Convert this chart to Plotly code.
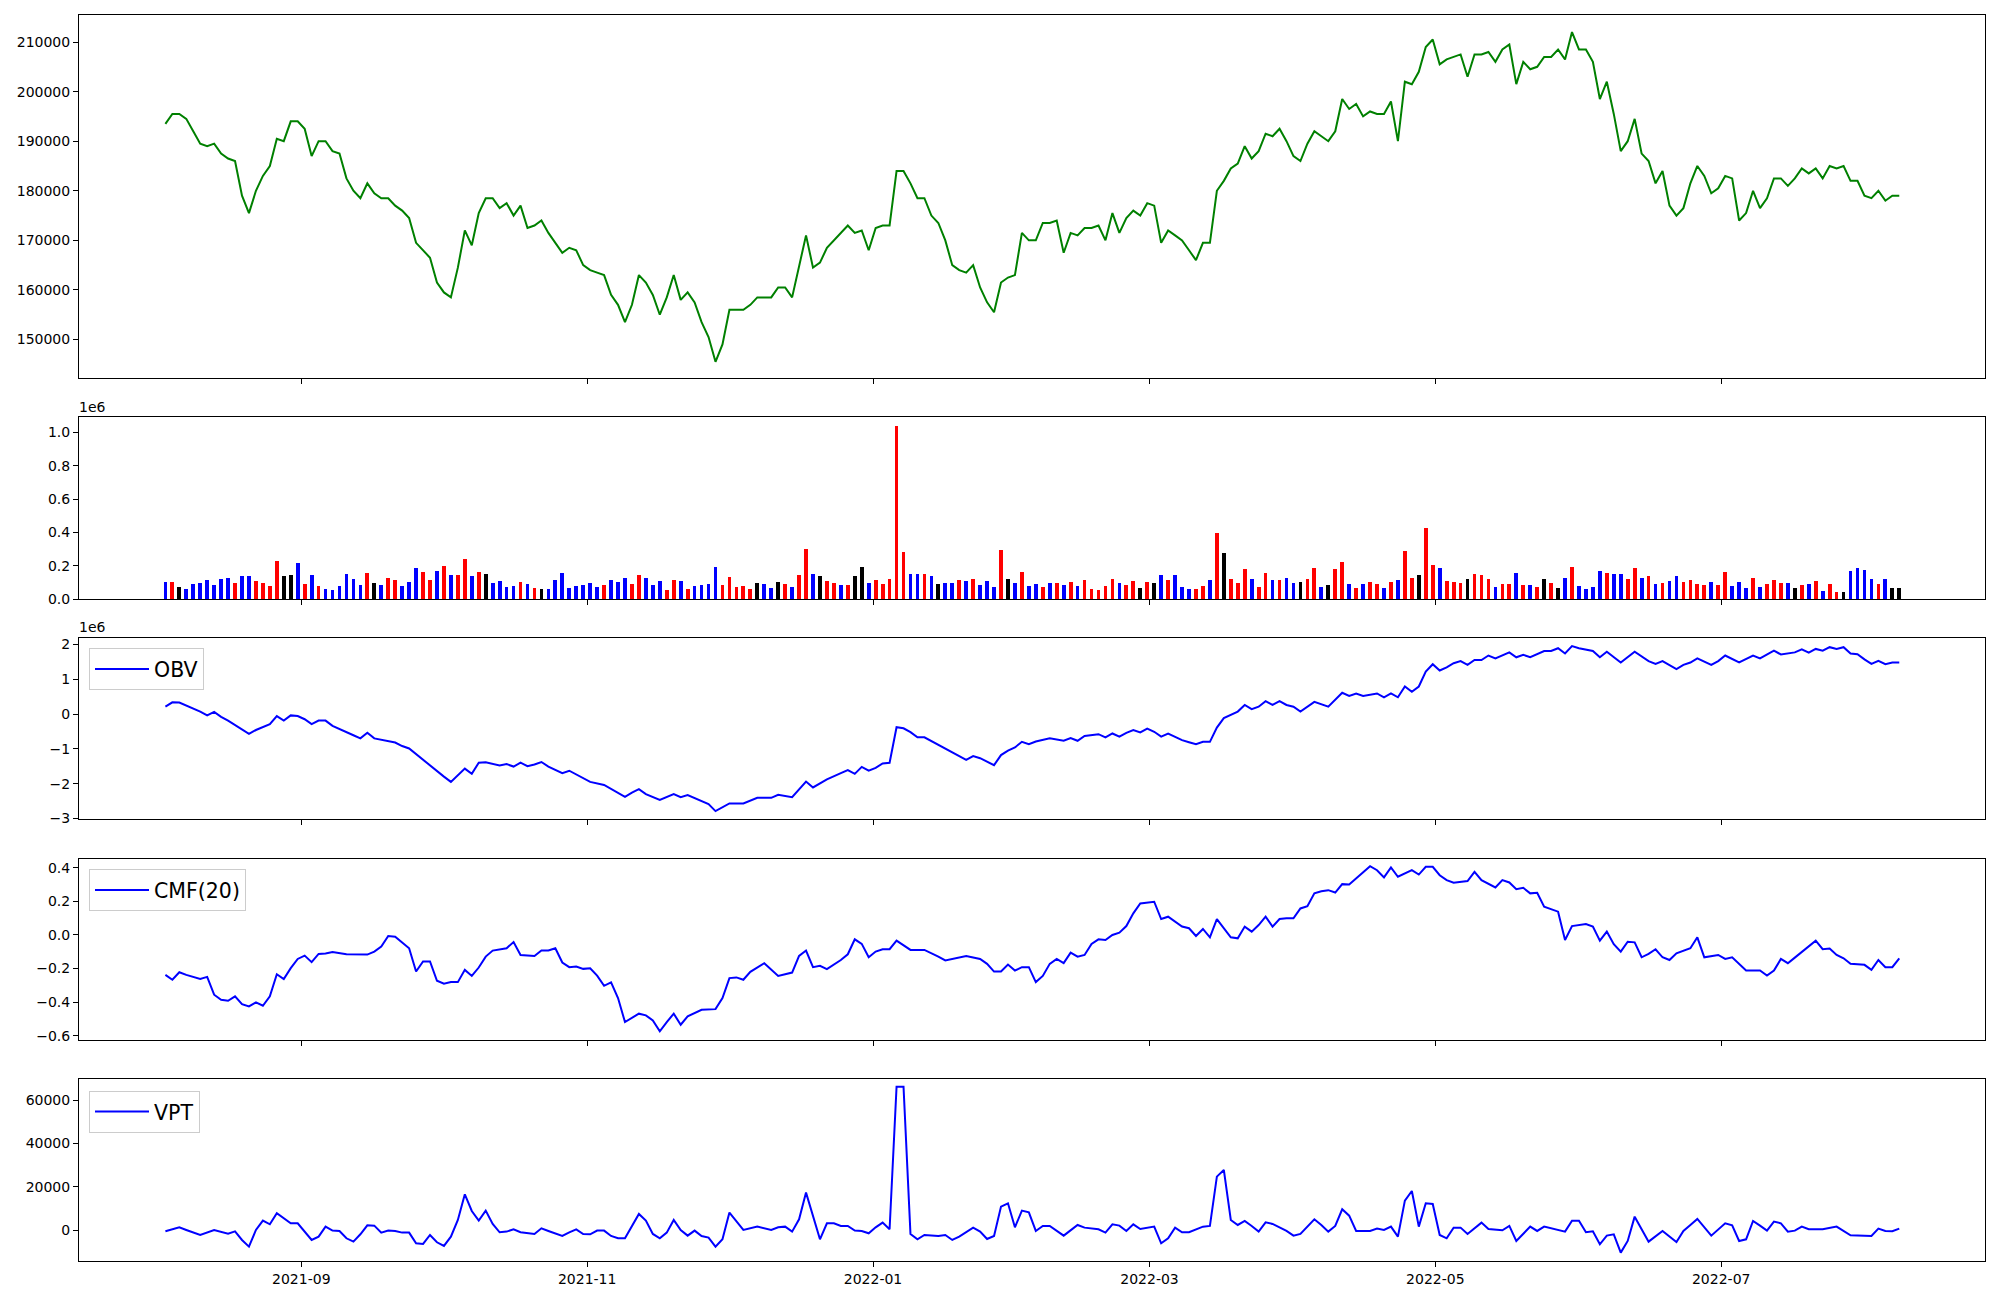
import pandas as pd
import plotly.graph_objects as go

# ---------------- data ----------------
HOLIDAYS = ["2021-08-16", "2021-09-20", "2021-09-21", "2021-09-22", "2021-10-04",
            "2021-10-11", "2021-12-31", "2022-01-31", "2022-02-01", "2022-02-02",
            "2022-03-01", "2022-03-09", "2022-05-05", "2022-06-01", "2022-06-06"]
trade_days = [d.strftime("%Y-%m-%d") for d in pd.bdate_range("2021-08-03", "2022-08-08")
              if d.strftime("%Y-%m-%d") not in HOLIDAYS]

close = [
    193500, 195500, 195500, 194500, 192000, 189500, 189000, 189500, 187500, 186500,
    186000, 179000, 175500, 180000, 183000, 185000, 190500, 190000, 194000, 194000,
    192500, 187000, 190000, 190000, 188000, 187500, 182500, 180000, 178500, 181500,
    179500, 178500, 178500, 177000, 176000, 174500, 169500, 168000, 166500,
    161500, 159500, 158500, 164500, 172000, 169000, 175500, 178500, 178500, 176500,
    177500, 175000, 177000, 172500, 173000, 174000, 171500, 169500, 167500,
    168500, 168000, 165000, 164000, 163500, 163000, 159000, 157000, 153500, 157000,
    163000, 161500, 159000, 155000, 158500, 163000, 158000, 159500, 157500, 153500,
    150500, 145500,
    149000, 156000, 156000, 156000, 157000, 158500, 158500, 158500, 160500, 160500,
    158500, 165000, 171000, 164500, 165500, 168500, 170000, 171500, 173000, 171500,
    172000, 168000,
    172500, 173000, 173000, 184000, 184000, 181500, 178500, 178500, 175000, 173500,
    170000, 165000, 164000, 163500, 165000, 160500, 157500, 155500, 161500, 162500,
    163000, 171500, 170000, 170000, 173500, 173500, 174000, 167500, 171500, 171000,
    172500, 172500, 173000, 170000, 175500, 171500, 174500, 176000,
    175000, 177500, 177000, 169500, 172000, 171000, 170000, 168000, 166000, 169500,
    169500, 180000, 182000, 184500, 185500, 189000, 186500, 188000, 191500, 191000,
    192500,
    190000, 187000, 186000, 189500, 192000, 191000, 190000, 192000, 198500, 196500,
    197500, 195000, 196000, 195500, 195500, 198000, 190000, 202000, 201500, 204000,
    209000,
    210500, 205500, 206500, 207000, 207500, 203000, 207500, 207500, 208000, 206000,
    208500, 209500, 201500, 206000, 204500, 205000, 207000, 207000, 208500, 206500,
    212000,
    208500, 208500, 206000, 198500, 202000, 195500, 188000, 190000, 194500, 187500,
    186000, 181500, 184000, 177000, 175000, 176500, 181500, 185000, 183000, 179500,
    180500, 183000, 182500, 174000, 175500, 180000, 176500, 178500, 182500, 182500,
    181000, 182500, 184500, 183500, 184500, 182500, 185000, 184500, 185000, 182000,
    182000,
    179000, 178500, 180000, 178000, 179000, 179000,
]

volume = [
    104000, 104000, 74000, 62000, 92000, 98000, 116000, 86000, 122000, 128000,
    98000, 140000, 140000, 110000, 98000, 80000, 230000, 140000, 146000, 218000,
    92000, 146000, 80000, 62000, 56000, 80000, 152000, 122000, 86000, 158000,
    98000, 86000, 128000, 116000, 80000, 104000, 188000, 164000, 116000, 170000,
    200000, 146000, 146000, 242000, 140000, 164000, 152000, 98000, 110000, 74000,
    80000, 104000, 92000, 68000, 62000, 62000, 116000, 158000, 68000, 80000,
    86000, 98000, 74000, 86000, 116000, 104000, 128000, 92000, 146000, 128000,
    86000, 110000, 56000, 116000, 110000, 62000, 80000, 86000, 92000, 194000,
    86000, 134000, 74000, 80000, 62000, 98000, 92000, 68000, 104000, 92000,
    74000, 146000, 301000, 152000, 140000, 110000, 98000, 86000, 86000, 140000,
    194000, 98000, 116000, 92000, 122000, 1038000, 283000, 152000, 152000, 152000,
    140000, 92000, 98000, 98000, 116000, 110000, 122000, 86000, 110000, 74000,
    295000, 122000, 98000, 164000, 80000, 92000, 74000, 98000, 98000, 86000,
    104000, 80000, 116000, 62000, 56000, 80000, 122000, 98000, 86000, 110000,
    68000, 104000, 98000, 146000, 116000, 146000, 74000, 62000, 62000, 80000,
    116000, 397000, 277000, 122000, 98000, 182000, 122000, 74000, 158000, 116000,
    116000, 128000, 98000, 104000, 122000, 188000, 74000, 86000, 182000,
    224000, 92000, 68000, 92000, 104000, 92000, 68000, 104000, 116000, 289000,
    128000, 146000, 427000, 206000, 188000, 110000, 104000, 98000, 122000, 152000,
    146000, 122000, 74000, 92000, 92000, 158000, 86000, 86000, 74000, 122000,
    98000, 68000, 128000, 194000, 80000, 62000, 74000, 170000, 158000, 152000,
    152000, 122000, 188000, 128000, 140000, 92000, 98000, 110000, 140000, 104000,
    116000, 92000, 86000, 104000, 86000, 164000, 80000, 104000, 68000, 128000,
    74000, 92000, 116000, 98000, 98000, 68000, 86000, 92000, 110000, 50000,
    92000, 44000, 44000, 170000, 188000, 176000, 122000, 92000, 122000, 68000,
    68000,
]

# u = close up, d = close down, f = unchanged
direction = (
    "d u f d d d d d d d  u d d u u u u f f d  u d u d d d d d d u  f d u u d d d u u d "
    "u d u u d u f d d d  d u d u f d d d d d  d d d u d d d u u d  d d u u d u d d d d "
    "u u u u u f d d f u  d u u d f u u d u f  f d u u u u u d d u  d f d d u d u d d d "
    "u f d u d d u d u d  u d u u u u u d u u  f u f d u d d d u u  d u f u u u d u u d "
    "u d d f u u d f u  u d u d u u d u d u  u f u u d u u u f u  u u d u u d u d u f "
    "u f d u d d d d u d  d u u d u d u d d u  u u u d u u d d d u  d u u u d f u d u d "
    "u u f d d d d u d f  f"
).split()

obv_points = [
    ("2021-08-03", 0.21), ("2021-08-04", 0.335), ("2021-08-05", 0.33), ("2021-08-06", 0.25),
    ("2021-08-09", 0.16), ("2021-08-10", 0.07), ("2021-08-11", -0.04), ("2021-08-12", 0.06),
    ("2021-08-13", -0.08), ("2021-08-17", -0.19), ("2021-08-20", -0.57), ("2021-08-23", -0.46),
    ("2021-08-25", -0.29), ("2021-08-26", -0.06), ("2021-08-27", -0.19), ("2021-08-30", -0.04),
    ("2021-08-31", -0.06), ("2021-09-01", -0.15), ("2021-09-02", -0.29), ("2021-09-03", -0.19),
    ("2021-09-06", -0.19), ("2021-09-07", -0.34), ("2021-09-10", -0.61), ("2021-09-13", -0.70),
    ("2021-09-14", -0.54), ("2021-09-15", -0.70), ("2021-09-23", -0.82), ("2021-09-24", -0.92),
    ("2021-09-27", -0.99), ("2021-09-29", -1.32), ("2021-10-01", -1.63), ("2021-10-05", -1.80),
    ("2021-10-06", -1.95), ("2021-10-08", -1.57), ("2021-10-12", -1.72), ("2021-10-13", -1.40),
    ("2021-10-14", -1.39), ("2021-10-18", -1.48), ("2021-10-19", -1.44), ("2021-10-20", -1.51),
    ("2021-10-21", -1.40), ("2021-10-22", -1.50), ("2021-10-25", -1.45), ("2021-10-26", -1.38),
    ("2021-10-27", -1.51), ("2021-10-29", -1.70), ("2021-11-01", -1.63), ("2021-11-04", -1.95),
    ("2021-11-08", -2.04), ("2021-11-11", -2.38), ("2021-11-12", -2.26), ("2021-11-15", -2.16),
    ("2021-11-16", -2.30), ("2021-11-18", -2.47), ("2021-11-22", -2.30), ("2021-11-23", -2.39),
    ("2021-11-24", -2.33), ("2021-11-26", -2.49), ("2021-11-29", -2.59), ("2021-11-30", -2.79),
    ("2021-12-02", -2.57), ("2021-12-06", -2.57), ("2021-12-08", -2.41), ("2021-12-10", -2.41),
    ("2021-12-13", -2.32), ("2021-12-15", -2.39), ("2021-12-17", -1.94), ("2021-12-20", -2.11),
    ("2021-12-22", -1.88), ("2021-12-24", -1.70), ("2021-12-27", -1.61), ("2021-12-28", -1.72),
    ("2021-12-29", -1.52), ("2021-12-30", -1.63), ("2022-01-03", -1.55), ("2022-01-04", -1.42),
    ("2022-01-05", -1.40), ("2022-01-06", -0.38), ("2022-01-07", -0.41), ("2022-01-10", -0.52),
    ("2022-01-11", -0.67), ("2022-01-12", -0.67), ("2022-01-14", -0.89), ("2022-01-17", -0.99),
    ("2022-01-20", -1.32), ("2022-01-21", -1.21), ("2022-01-24", -1.27), ("2022-01-26", -1.47),
    ("2022-01-27", -1.18), ("2022-01-28", -1.05), ("2022-02-03", -0.96), ("2022-02-04", -0.80),
    ("2022-02-07", -0.87), ("2022-02-08", -0.79), ("2022-02-10", -0.70), ("2022-02-14", -0.77),
    ("2022-02-15", -0.69), ("2022-02-16", -0.77), ("2022-02-17", -0.63), ("2022-02-21", -0.58),
    ("2022-02-22", -0.67), ("2022-02-23", -0.56), ("2022-02-24", -0.65), ("2022-02-25", -0.54),
    ("2022-02-28", -0.46), ("2022-03-02", -0.53), ("2022-03-03", -0.42), ("2022-03-04", -0.51),
    ("2022-03-07", -0.65), ("2022-03-08", -0.56), ("2022-03-11", -0.75), ("2022-03-14", -0.81),
    ("2022-03-15", -0.87), ("2022-03-16", -0.80), ("2022-03-17", -0.80), ("2022-03-18", -0.39),
    ("2022-03-21", -0.12), ("2022-03-23", 0.07), ("2022-03-24", 0.26), ("2022-03-25", 0.14),
    ("2022-03-28", 0.21), ("2022-03-29", 0.37), ("2022-03-30", 0.26), ("2022-03-31", 0.37),
    ("2022-04-01", 0.26), ("2022-04-04", 0.21), ("2022-04-05", 0.07), ("2022-04-07", 0.35),
    ("2022-04-08", 0.29), ("2022-04-11", 0.21), ("2022-04-13", 0.61), ("2022-04-14", 0.52),
    ("2022-04-15", 0.59), ("2022-04-18", 0.52), ("2022-04-20", 0.59), ("2022-04-21", 0.48),
    ("2022-04-22", 0.59), ("2022-04-25", 0.48), ("2022-04-26", 0.79), ("2022-04-27", 0.64),
    ("2022-04-28", 0.79), ("2022-04-29", 1.22), ("2022-05-02", 1.43), ("2022-05-03", 1.25),
    ("2022-05-04", 1.34), ("2022-05-06", 1.46), ("2022-05-09", 1.52), ("2022-05-10", 1.41),
    ("2022-05-11", 1.55), ("2022-05-12", 1.55), ("2022-05-13", 1.68), ("2022-05-16", 1.60),
    ("2022-05-18", 1.77), ("2022-05-19", 1.63), ("2022-05-20", 1.70), ("2022-05-23", 1.63),
    ("2022-05-25", 1.81), ("2022-05-26", 1.81), ("2022-05-27", 1.89), ("2022-05-30", 1.74),
    ("2022-05-31", 1.95), ("2022-06-02", 1.89), ("2022-06-07", 1.81), ("2022-06-08", 1.63),
    ("2022-06-09", 1.79), ("2022-06-10", 1.63), ("2022-06-13", 1.48), ("2022-06-15", 1.79),
    ("2022-06-17", 1.52), ("2022-06-20", 1.44), ("2022-06-21", 1.52), ("2022-06-23", 1.29),
    ("2022-06-24", 1.41), ("2022-06-27", 1.48), ("2022-06-28", 1.60), ("2022-06-30", 1.41),
    ("2022-07-01", 1.52), ("2022-07-04", 1.68), ("2022-07-06", 1.48), ("2022-07-08", 1.68),
    ("2022-07-11", 1.60), ("2022-07-13", 1.82), ("2022-07-14", 1.71), ("2022-07-18", 1.77),
    ("2022-07-19", 1.86), ("2022-07-20", 1.76), ("2022-07-21", 1.87), ("2022-07-22", 1.82),
    ("2022-07-25", 1.92), ("2022-07-26", 1.87), ("2022-07-27", 1.92), ("2022-07-28", 1.74),
    ("2022-07-29", 1.72), ("2022-08-01", 1.57), ("2022-08-02", 1.44), ("2022-08-03", 1.53),
    ("2022-08-04", 1.43), ("2022-08-05", 1.48), ("2022-08-08", 1.48),
]  # millions

cmf_points = [
    ("2021-08-03", -0.238), ("2021-08-04", -0.267), ("2021-08-05", -0.222), ("2021-08-06", -0.238),
    ("2021-08-10", -0.262), ("2021-08-11", -0.250), ("2021-08-12", -0.356), ("2021-08-13", -0.386),
    ("2021-08-17", -0.392), ("2021-08-18", -0.366), ("2021-08-19", -0.412), ("2021-08-20", -0.426),
    ("2021-08-23", -0.402), ("2021-08-24", -0.422), ("2021-08-25", -0.366), ("2021-08-26", -0.234),
    ("2021-08-27", -0.263), ("2021-08-30", -0.198), ("2021-08-31", -0.143), ("2021-09-01", -0.123),
    ("2021-09-02", -0.162), ("2021-09-03", -0.113), ("2021-09-06", -0.111), ("2021-09-07", -0.101),
    ("2021-09-09", -0.115), ("2021-09-14", -0.117), ("2021-09-15", -0.099), ("2021-09-16", -0.069),
    ("2021-09-17", -0.006), ("2021-09-23", -0.010), ("2021-09-27", -0.079), ("2021-09-28", -0.218),
    ("2021-09-29", -0.158), ("2021-09-30", -0.158), ("2021-10-01", -0.273), ("2021-10-05", -0.291),
    ("2021-10-06", -0.281), ("2021-10-07", -0.281), ("2021-10-08", -0.208), ("2021-10-12", -0.244),
    ("2021-10-13", -0.194), ("2021-10-14", -0.129), ("2021-10-15", -0.093), ("2021-10-19", -0.079),
    ("2021-10-20", -0.042), ("2021-10-21", -0.119), ("2021-10-25", -0.125), ("2021-10-26", -0.093),
    ("2021-10-27", -0.093), ("2021-10-28", -0.079), ("2021-10-29", -0.164), ("2021-11-01", -0.192),
    ("2021-11-02", -0.188), ("2021-11-03", -0.202), ("2021-11-04", -0.198), ("2021-11-05", -0.242),
    ("2021-11-08", -0.303), ("2021-11-09", -0.283), ("2021-11-10", -0.376), ("2021-11-11", -0.519),
    ("2021-11-15", -0.469), ("2021-11-16", -0.479), ("2021-11-17", -0.509), ("2021-11-18", -0.574),
    ("2021-11-19", -0.519), ("2021-11-22", -0.469), ("2021-11-23", -0.535), ("2021-11-24", -0.485),
    ("2021-11-26", -0.446), ("2021-11-30", -0.442), ("2021-12-01", -0.376), ("2021-12-02", -0.257),
    ("2021-12-03", -0.253), ("2021-12-06", -0.267), ("2021-12-07", -0.220), ("2021-12-09", -0.168),
    ("2021-12-13", -0.244), ("2021-12-15", -0.224), ("2021-12-16", -0.125), ("2021-12-17", -0.093),
    ("2021-12-20", -0.192), ("2021-12-21", -0.184), ("2021-12-22", -0.204), ("2021-12-24", -0.149),
    ("2021-12-27", -0.115), ("2021-12-28", -0.026), ("2021-12-29", -0.053), ("2021-12-30", -0.133),
    ("2022-01-03", -0.099), ("2022-01-04", -0.085), ("2022-01-05", -0.085), ("2022-01-06", -0.034),
    ("2022-01-10", -0.089), ("2022-01-12", -0.089), ("2022-01-14", -0.129), ("2022-01-17", -0.152),
    ("2022-01-20", -0.125), ("2022-01-24", -0.143), ("2022-01-25", -0.172), ("2022-01-26", -0.218),
    ("2022-01-27", -0.218), ("2022-01-28", -0.176), ("2022-02-03", -0.212), ("2022-02-04", -0.192),
    ("2022-02-07", -0.192), ("2022-02-08", -0.281), ("2022-02-09", -0.244), ("2022-02-10", -0.172),
    ("2022-02-11", -0.143), ("2022-02-14", -0.168), ("2022-02-15", -0.105), ("2022-02-16", -0.129),
    ("2022-02-17", -0.119), ("2022-02-18", -0.053), ("2022-02-21", -0.026), ("2022-02-22", -0.030),
    ("2022-02-23", 0.000), ("2022-02-24", 0.014), ("2022-02-25", 0.053), ("2022-02-28", 0.129),
    ("2022-03-02", 0.188), ("2022-03-04", 0.198), ("2022-03-07", 0.095), ("2022-03-08", 0.109),
    ("2022-03-11", 0.050), ("2022-03-14", 0.040), ("2022-03-15", -0.006), ("2022-03-16", 0.036),
    ("2022-03-17", -0.014), ("2022-03-18", 0.095), ("2022-03-22", -0.014), ("2022-03-23", -0.020),
    ("2022-03-24", 0.050), ("2022-03-25", 0.020), ("2022-03-28", 0.059), ("2022-03-29", 0.109),
    ("2022-03-30", 0.050), ("2022-03-31", 0.095), ("2022-04-01", 0.099), ("2022-04-04", 0.099),
    ("2022-04-05", 0.158), ("2022-04-06", 0.172), ("2022-04-07", 0.248), ("2022-04-08", 0.261),
    ("2022-04-11", 0.267), ("2022-04-12", 0.253), ("2022-04-13", 0.303), ("2022-04-14", 0.301),
    ("2022-04-19", 0.410), ("2022-04-20", 0.386), ("2022-04-21", 0.343), ("2022-04-22", 0.402),
    ("2022-04-25", 0.347), ("2022-04-27", 0.386), ("2022-04-28", 0.360), ("2022-04-29", 0.406),
    ("2022-05-02", 0.406), ("2022-05-03", 0.356), ("2022-05-04", 0.327), ("2022-05-06", 0.311),
    ("2022-05-10", 0.321), ("2022-05-11", 0.376), ("2022-05-12", 0.327), ("2022-05-16", 0.283),
    ("2022-05-17", 0.327), ("2022-05-18", 0.313), ("2022-05-19", 0.273), ("2022-05-20", 0.281),
    ("2022-05-23", 0.248), ("2022-05-24", 0.251), ("2022-05-25", 0.168), ("2022-05-27", 0.139),
    ("2022-05-30", -0.030), ("2022-05-31", 0.053), ("2022-06-03", 0.065), ("2022-06-07", 0.050),
    ("2022-06-08", -0.034), ("2022-06-09", 0.020), ("2022-06-10", -0.055), ("2022-06-13", -0.099),
    ("2022-06-14", -0.040), ("2022-06-15", -0.044), ("2022-06-16", -0.133), ("2022-06-17", -0.113),
    ("2022-06-20", -0.085), ("2022-06-21", -0.133), ("2022-06-22", -0.149), ("2022-06-23", -0.109),
    ("2022-06-27", -0.079), ("2022-06-28", -0.014), ("2022-06-29", -0.133), ("2022-07-01", -0.119),
    ("2022-07-04", -0.143), ("2022-07-05", -0.133), ("2022-07-07", -0.212), ("2022-07-11", -0.212),
    ("2022-07-12", -0.242), ("2022-07-13", -0.212), ("2022-07-14", -0.143), ("2022-07-15", -0.168),
    ("2022-07-18", -0.135), ("2022-07-21", -0.034), ("2022-07-22", -0.085), ("2022-07-25", -0.081),
    ("2022-07-26", -0.119), ("2022-07-27", -0.139), ("2022-07-28", -0.172), ("2022-08-01", -0.178),
    ("2022-08-02", -0.208), ("2022-08-03", -0.149), ("2022-08-04", -0.192), ("2022-08-05", -0.192),
    ("2022-08-08", -0.139),
]

vpt_points = [
    ("2021-08-03", -460), ("2021-08-05", 1380), ("2021-08-06", 150), ("2021-08-09", -920),
    ("2021-08-10", -2150), ("2021-08-12", 150), ("2021-08-13", -610), ("2021-08-17", -1540),
    ("2021-08-18", -460), ("2021-08-19", -4450), ("2021-08-20", -7520), ("2021-08-23", 150),
    ("2021-08-24", 4450), ("2021-08-25", 2760), ("2021-08-26", 7830), ("2021-08-30", 3220),
    ("2021-08-31", 3220), ("2021-09-02", -4450), ("2021-09-03", -2920), ("2021-09-06", 1690),
    ("2021-09-07", -150), ("2021-09-08", -300), ("2021-09-09", -3680), ("2021-09-10", -5220),
    ("2021-09-13", -1840), ("2021-09-14", 2300), ("2021-09-15", 2150), ("2021-09-16", -1070),
    ("2021-09-17", -150), ("2021-09-23", -300), ("2021-09-24", -1070), ("2021-09-27", -1070),
    ("2021-09-28", -5990), ("2021-09-29", -6290), ("2021-09-30", -2150), ("2021-10-01", -5530),
    ("2021-10-05", -7210), ("2021-10-06", -2920), ("2021-10-07", 4760), ("2021-10-08", 16580),
    ("2021-10-12", 8900), ("2021-10-13", 4450), ("2021-10-14", 9060), ("2021-10-15", 2920),
    ("2021-10-18", -920), ("2021-10-19", -610), ("2021-10-20", 460), ("2021-10-21", -920),
    ("2021-10-25", -1690), ("2021-10-26", 920), ("2021-10-27", -310), ("2021-10-29", -2610),
    ("2021-11-01", -920), ("2021-11-02", 460), ("2021-11-03", -1690), ("2021-11-04", -1840),
    ("2021-11-05", -150), ("2021-11-08", -150), ("2021-11-09", -2610), ("2021-11-10", -3680),
    ("2021-11-11", -3680), ("2021-11-15", 7520), ("2021-11-16", 4450), ("2021-11-17", -1690),
    ("2021-11-18", -3680), ("2021-11-19", -1070), ("2021-11-22", 4760), ("2021-11-23", 150),
    ("2021-11-24", -2460), ("2021-11-25", -150), ("2021-11-26", -2610), ("2021-11-29", -3380),
    ("2021-11-30", -7520), ("2021-12-01", -4140), ("2021-12-02", 8140), ("2021-12-06", 150),
    ("2021-12-08", 1690), ("2021-12-10", 150), ("2021-12-13", 1380), ("2021-12-14", 1690),
    ("2021-12-15", -610), ("2021-12-16", 5070), ("2021-12-17", 17350), ("2021-12-20", 6600),
    ("2021-12-21", -4140), ("2021-12-22", 3220), ("2021-12-23", 3220), ("2021-12-24", 2000),
    ("2021-12-27", 2000), ("2021-12-28", -150), ("2021-12-29", -300), ("2021-12-30", -1380),
    ("2022-01-03", 1380), ("2022-01-04", 3530), ("2022-01-05", 460), ("2022-01-06", 66160),
    ("2022-01-07", 66160), ("2022-01-10", -1690), ("2022-01-11", -4140), ("2022-01-12", -2150),
    ("2022-01-13", -2460), ("2022-01-14", -2610), ("2022-01-17", -2150), ("2022-01-18", -4450),
    ("2022-01-19", -2920), ("2022-01-21", 1230), ("2022-01-24", -610), ("2022-01-25", -3990),
    ("2022-01-26", -2610), ("2022-01-27", 10900), ("2022-01-28", 12430), ("2022-02-03", 1380),
    ("2022-02-04", 9060), ("2022-02-07", 8290), ("2022-02-08", -310), ("2022-02-09", 2000),
    ("2022-02-10", 2000), ("2022-02-14", -2460), ("2022-02-16", 2460), ("2022-02-17", 1230),
    ("2022-02-21", 460), ("2022-02-22", -1070), ("2022-02-23", 2760), ("2022-02-24", 2150),
    ("2022-02-25", -310), ("2022-02-28", 2760), ("2022-03-02", 610), ("2022-03-04", 1690),
    ("2022-03-07", -5990), ("2022-03-08", -3680), ("2022-03-10", 1230), ("2022-03-11", -920),
    ("2022-03-14", -920), ("2022-03-16", 1690), ("2022-03-17", 2000), ("2022-03-18", 24710),
    ("2022-03-21", 27780), ("2022-03-22", 4760), ("2022-03-23", 2460), ("2022-03-24", 4300),
    ("2022-03-25", 2000), ("2022-03-28", -610), ("2022-03-29", 3680), ("2022-03-30", 2920),
    ("2022-04-01", -310), ("2022-04-04", -2460), ("2022-04-05", -1690), ("2022-04-07", 5070),
    ("2022-04-08", 2460), ("2022-04-11", -610), ("2022-04-12", 2000), ("2022-04-13", 9670),
    ("2022-04-14", 6750), ("2022-04-15", -310), ("2022-04-19", -310), ("2022-04-20", 770),
    ("2022-04-21", 150), ("2022-04-22", 1690), ("2022-04-25", -2920), ("2022-04-26", 13660),
    ("2022-04-27", 18110), ("2022-04-28", 1690), ("2022-04-29", 12430), ("2022-05-02", 12130),
    ("2022-05-03", -2150), ("2022-05-04", -3680), ("2022-05-06", 1230), ("2022-05-09", 1230),
    ("2022-05-10", -1690), ("2022-05-12", 3530), ("2022-05-13", 610), ("2022-05-16", 150),
    ("2022-05-17", 0), ("2022-05-18", 2000), ("2022-05-19", -4910), ("2022-05-23", 1690),
    ("2022-05-24", -310), ("2022-05-25", 1690), ("2022-05-30", -610), ("2022-05-31", 4450),
    ("2022-06-02", 4450), ("2022-06-03", -920), ("2022-06-07", -460), ("2022-06-08", -6450),
    ("2022-06-09", -2460), ("2022-06-10", -1840), ("2022-06-13", -10280), ("2022-06-14", -4910),
    ("2022-06-15", 6290), ("2022-06-17", -5220), ("2022-06-20", -2920), ("2022-06-21", -310),
    ("2022-06-23", -5370), ("2022-06-24", -310), ("2022-06-27", 2460), ("2022-06-28", 5220),
    ("2022-06-30", -2460), ("2022-07-04", 3220), ("2022-07-05", 2300), ("2022-07-06", -4910),
    ("2022-07-07", -4140), ("2022-07-08", 4300), ("2022-07-11", 2150), ("2022-07-12", -150),
    ("2022-07-13", 3990), ("2022-07-14", 3220), ("2022-07-15", -610), ("2022-07-18", -150),
    ("2022-07-19", 1690), ("2022-07-20", 460), ("2022-07-22", 460), ("2022-07-26", 1690),
    ("2022-07-28", -2300), ("2022-07-29", -2300), ("2022-08-01", -2610), ("2022-08-02", -2610),
    ("2022-08-03", 770), ("2022-08-04", -310), ("2022-08-05", -460), ("2022-08-08", 770),
]

month_ticks = ["2021-09-01", "2021-11-01", "2022-01-01", "2022-03-01", "2022-05-01", "2022-07-01"]
month_labels = ["2021-09", "2021-11", "2022-01", "2022-03", "2022-05", "2022-07"]

# The rows are drawn evenly spaced between the first and last session date
x_grid = list(pd.date_range(trade_days[0], trade_days[-1], periods=len(trade_days)))
row_of = {d: i for i, d in enumerate(trade_days)}


def xs(points):
    return [x_grid[row_of[p[0]]] for p in points]


# ---------------- figure ----------------
PAGE_OFF = 8            # page body margin around the plot div
FW, FH = 2000 - 2 * PAGE_OFF, 1300 - 2 * PAGE_OFF
FONT = "DejaVu Sans"
TICK_SIZE = 14
BAR_COLORS = {"u": "#ff0000", "d": "#0000ff", "f": "#000000"}


def fx(p):
    return (p - PAGE_OFF) / FW


def fy(p):
    return 1 - (p - PAGE_OFF) / FH


panels_px = [(15, 378.3), (417.3, 599.3), (638.3, 819.0), (859.3, 1040.0), (1079.3, 1261.0)]
x_domain = [fx(79), fx(1985)]
x_range = ["2021-07-15 13:30", "2022-08-26 07:00"]

fig = go.Figure()

fig.add_trace(go.Scatter(x=x_grid, y=close, mode="lines",
                         line=dict(color="#008000", width=2),
                         xaxis="x", yaxis="y", showlegend=False))

fig.add_trace(go.Bar(x=x_grid, y=volume,
                     marker=dict(color=[BAR_COLORS[d] for d in direction], line=dict(width=0)),
                     width=0.8 * 86400000, xaxis="x2", yaxis="y2", showlegend=False))

fig.add_trace(go.Scatter(x=xs(obv_points), y=[p[1] * 1e6 for p in obv_points],
                         mode="lines", name="OBV", line=dict(color="#0000ff", width=2),
                         xaxis="x3", yaxis="y3", legend="legend"))
fig.add_trace(go.Scatter(x=xs(cmf_points), y=[p[1] for p in cmf_points],
                         mode="lines", name="CMF(20)", line=dict(color="#0000ff", width=2),
                         xaxis="x4", yaxis="y4", legend="legend2"))
fig.add_trace(go.Scatter(x=xs(vpt_points), y=[p[1] for p in vpt_points],
                         mode="lines", name="VPT", line=dict(color="#0000ff", width=2),
                         xaxis="x5", yaxis="y5", legend="legend3"))

axis_common = dict(showline=True, linecolor="black", linewidth=1, mirror=True,
                   showgrid=False, zeroline=False, ticks="outside", ticklen=5,
                   tickwidth=1, tickcolor="black", automargin=False,
                   tickfont=dict(family=FONT, size=TICK_SIZE, color="black"))

y_specs = [
    dict(range=[142180, 215450], tickvals=list(range(150000, 210001, 10000)),
         ticktext=[str(v) for v in range(150000, 210001, 10000)]),
    dict(range=[0, 1.0898e6], tickvals=[0, 2e5, 4e5, 6e5, 8e5, 1e6],
         ticktext=["0.0", "0.2", "0.4", "0.6", "0.8", "1.0"]),
    dict(range=[-3.017e6, 2.175e6], tickvals=[-3e6, -2e6, -1e6, 0, 1e6, 2e6],
         ticktext=["\u22123", "\u22122", "\u22121", "0", "1", "2"]),
    dict(range=[-0.626, 0.451], tickvals=[-0.6, -0.4, -0.2, 0.0, 0.2, 0.4],
         ticktext=["\u22120.6", "\u22120.4", "\u22120.2", "0.0", "0.2", "0.4"]),
    dict(range=[-14140, 69540], tickvals=[0, 20000, 40000, 60000],
         ticktext=["0", "20000", "40000", "60000"]),
]

layout = dict(width=FW, height=FH, margin=dict(l=0, r=0, t=0, b=0, autoexpand=False),
              paper_bgcolor="white", plot_bgcolor="white",
              font=dict(family=FONT, color="black"), bargap=0)

for i, (top, bot) in enumerate(panels_px):
    n = "" if i == 0 else str(i + 1)
    xa = dict(axis_common, type="date", domain=x_domain, range=x_range,
              anchor="y" + n, tickvals=month_ticks, ticktext=month_labels,
              showticklabels=(i == 4))
    if i > 0:
        xa["matches"] = "x"
    ya = dict(axis_common, domain=[fy(bot), fy(top)], anchor="x" + n, **y_specs[i])
    layout["xaxis" + n] = xa
    layout["yaxis" + n] = ya

legend_style = dict(bgcolor="rgba(255,255,255,0.8)", bordercolor="#cccccc", borderwidth=1,
                    font=dict(family=FONT, size=20.5, color="black"),
                    xanchor="left", yanchor="top", x=fx(89), itemwidth=54)
layout["legend"] = dict(legend_style, y=fy(648.3))
layout["legend2"] = dict(legend_style, y=fy(869.3))
layout["legend3"] = dict(legend_style, y=fy(1090.7))

layout["annotations"] = [
    dict(text="1e6", xref="paper", yref="paper", x=fx(77), y=fy(417), xanchor="left",
         yanchor="bottom", showarrow=False,
         font=dict(family=FONT, size=TICK_SIZE, color="black")),
    dict(text="1e6", xref="paper", yref="paper", x=fx(77), y=fy(637), xanchor="left",
         yanchor="bottom", showarrow=False,
         font=dict(family=FONT, size=TICK_SIZE, color="black")),
]

fig.update_layout(**layout)
fig.write_html("out.html")
